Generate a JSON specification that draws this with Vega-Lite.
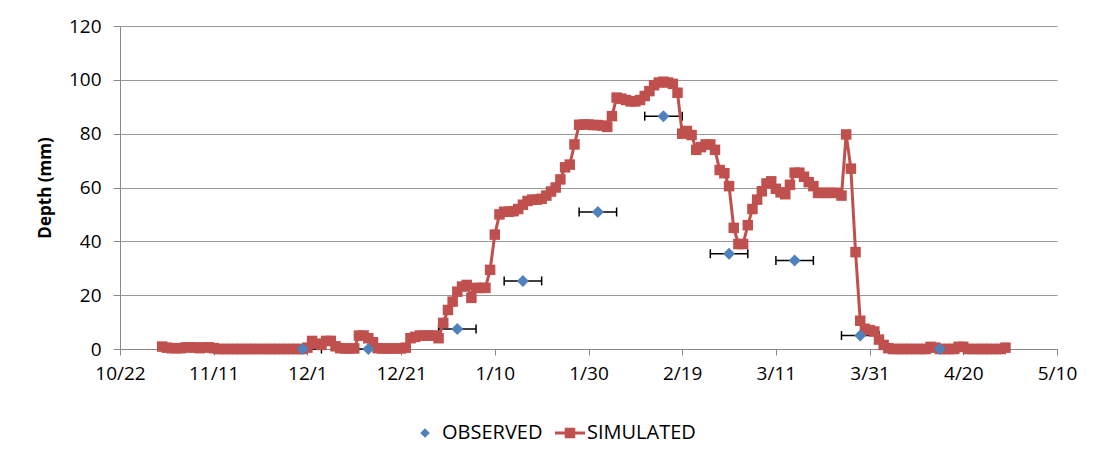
{
  "$schema": "https://vega.github.io/schema/vega-lite/v6.json",
  "autosize": {"type": "none"},
  "padding": {"left": 120, "top": 26, "right": 38, "bottom": 108},
  "width": 937,
  "height": 323,
  "background": "white",
  "config": {
    "view": {"stroke": null},
    "font": "Open Sans",
    "axis": {"labelFont": "Open Sans", "labelColor": "#000", "titleColor": "#000", "domainColor": "#888", "tickColor": "#888", "gridColor": "#999", "labelFontSize": 19, "titleFontSize": 17},
    "legend": {"orient": "none", "legendX": 290, "legendY": 392, "direction": "horizontal", "labelFont": "Open Sans", "labelFontSize": 20, "labelColor": "#000", "symbolSize": 900, "columnPadding": 12, "labelOffset": 2, "symbolStrokeWidth": 0, "title": null}
  },
  "datasets": {
    "sim": [
      {"date": "2010-10-31T00:00", "depth": 0.9},
      {"date": "2010-11-01T00:00", "depth": 0.5},
      {"date": "2010-11-02T00:00", "depth": 0.3},
      {"date": "2010-11-03T00:00", "depth": 0.3},
      {"date": "2010-11-04T00:00", "depth": 0.3},
      {"date": "2010-11-05T00:00", "depth": 0.6},
      {"date": "2010-11-06T00:00", "depth": 0.6},
      {"date": "2010-11-07T00:00", "depth": 0.6},
      {"date": "2010-11-08T00:00", "depth": 0.3},
      {"date": "2010-11-09T00:00", "depth": 0.6},
      {"date": "2010-11-10T00:00", "depth": 0.6},
      {"date": "2010-11-11T00:00", "depth": 0.3},
      {"date": "2010-11-12T00:00", "depth": 0},
      {"date": "2010-11-13T00:00", "depth": 0},
      {"date": "2010-11-14T00:00", "depth": 0},
      {"date": "2010-11-15T00:00", "depth": 0},
      {"date": "2010-11-16T00:00", "depth": 0},
      {"date": "2010-11-17T00:00", "depth": 0},
      {"date": "2010-11-18T00:00", "depth": 0},
      {"date": "2010-11-19T00:00", "depth": 0},
      {"date": "2010-11-20T00:00", "depth": 0},
      {"date": "2010-11-21T00:00", "depth": 0},
      {"date": "2010-11-22T00:00", "depth": 0},
      {"date": "2010-11-23T00:00", "depth": 0},
      {"date": "2010-11-24T00:00", "depth": 0},
      {"date": "2010-11-25T00:00", "depth": 0},
      {"date": "2010-11-26T00:00", "depth": 0},
      {"date": "2010-11-27T00:00", "depth": 0},
      {"date": "2010-11-28T00:00", "depth": 0},
      {"date": "2010-11-29T00:00", "depth": 0},
      {"date": "2010-11-30T00:00", "depth": 0},
      {"date": "2010-12-01T00:00", "depth": 0.5},
      {"date": "2010-12-02T00:00", "depth": 3},
      {"date": "2010-12-03T00:00", "depth": 2},
      {"date": "2010-12-04T00:00", "depth": 1.5},
      {"date": "2010-12-05T00:00", "depth": 3},
      {"date": "2010-12-06T00:00", "depth": 3},
      {"date": "2010-12-07T00:00", "depth": 1},
      {"date": "2010-12-08T00:00", "depth": 0.3},
      {"date": "2010-12-09T00:00", "depth": 0.2},
      {"date": "2010-12-10T00:00", "depth": 0.2},
      {"date": "2010-12-11T00:00", "depth": 0.2},
      {"date": "2010-12-12T00:00", "depth": 5},
      {"date": "2010-12-13T00:00", "depth": 5},
      {"date": "2010-12-14T00:00", "depth": 4},
      {"date": "2010-12-15T00:00", "depth": 2.5},
      {"date": "2010-12-16T00:00", "depth": 0.3},
      {"date": "2010-12-17T00:00", "depth": 0.2},
      {"date": "2010-12-18T00:00", "depth": 0.2},
      {"date": "2010-12-19T00:00", "depth": 0.2},
      {"date": "2010-12-20T00:00", "depth": 0.2},
      {"date": "2010-12-21T00:00", "depth": 0.2},
      {"date": "2010-12-22T00:00", "depth": 0.5},
      {"date": "2010-12-23T00:00", "depth": 4},
      {"date": "2010-12-24T00:00", "depth": 4.5},
      {"date": "2010-12-25T00:00", "depth": 5},
      {"date": "2010-12-26T00:00", "depth": 5},
      {"date": "2010-12-27T00:00", "depth": 5},
      {"date": "2010-12-28T00:00", "depth": 5},
      {"date": "2010-12-29T00:00", "depth": 4},
      {"date": "2010-12-30T00:00", "depth": 9.7},
      {"date": "2010-12-31T00:00", "depth": 14.5},
      {"date": "2011-01-01T00:00", "depth": 17.6},
      {"date": "2011-01-02T00:00", "depth": 21.3},
      {"date": "2011-01-03T00:00", "depth": 23.2},
      {"date": "2011-01-04T00:00", "depth": 23.8},
      {"date": "2011-01-05T00:00", "depth": 19},
      {"date": "2011-01-06T00:00", "depth": 22.7},
      {"date": "2011-01-07T00:00", "depth": 22.7},
      {"date": "2011-01-08T00:00", "depth": 22.7},
      {"date": "2011-01-09T00:00", "depth": 29.4},
      {"date": "2011-01-10T00:00", "depth": 42.5},
      {"date": "2011-01-11T00:00", "depth": 50},
      {"date": "2011-01-12T00:00", "depth": 51},
      {"date": "2011-01-13T00:00", "depth": 51},
      {"date": "2011-01-14T00:00", "depth": 51.2},
      {"date": "2011-01-15T00:00", "depth": 52},
      {"date": "2011-01-16T00:00", "depth": 53.6},
      {"date": "2011-01-17T00:00", "depth": 55},
      {"date": "2011-01-18T00:00", "depth": 55.5},
      {"date": "2011-01-19T00:00", "depth": 55.5},
      {"date": "2011-01-20T00:00", "depth": 55.8},
      {"date": "2011-01-21T00:00", "depth": 57},
      {"date": "2011-01-22T00:00", "depth": 58.5},
      {"date": "2011-01-23T00:00", "depth": 60},
      {"date": "2011-01-24T00:00", "depth": 63},
      {"date": "2011-01-25T00:00", "depth": 67.5},
      {"date": "2011-01-26T00:00", "depth": 68.5},
      {"date": "2011-01-27T00:00", "depth": 76},
      {"date": "2011-01-28T00:00", "depth": 83.3},
      {"date": "2011-01-29T00:00", "depth": 83.4},
      {"date": "2011-01-30T00:00", "depth": 83.4},
      {"date": "2011-01-31T00:00", "depth": 83.2},
      {"date": "2011-02-01T00:00", "depth": 83.2},
      {"date": "2011-02-02T00:00", "depth": 83},
      {"date": "2011-02-03T00:00", "depth": 82.5},
      {"date": "2011-02-04T00:00", "depth": 86.5},
      {"date": "2011-02-05T00:00", "depth": 93.4},
      {"date": "2011-02-06T00:00", "depth": 93},
      {"date": "2011-02-07T00:00", "depth": 92.5},
      {"date": "2011-02-08T00:00", "depth": 92},
      {"date": "2011-02-09T00:00", "depth": 92},
      {"date": "2011-02-10T00:00", "depth": 92.5},
      {"date": "2011-02-11T00:00", "depth": 94},
      {"date": "2011-02-12T00:00", "depth": 95.8},
      {"date": "2011-02-13T00:00", "depth": 98},
      {"date": "2011-02-14T00:00", "depth": 99},
      {"date": "2011-02-15T00:00", "depth": 99.3},
      {"date": "2011-02-16T00:00", "depth": 99},
      {"date": "2011-02-17T00:00", "depth": 98.5},
      {"date": "2011-02-18T00:00", "depth": 95.2},
      {"date": "2011-02-19T00:00", "depth": 80},
      {"date": "2011-02-20T00:00", "depth": 81},
      {"date": "2011-02-21T00:00", "depth": 79.5},
      {"date": "2011-02-22T00:00", "depth": 74},
      {"date": "2011-02-23T00:00", "depth": 75},
      {"date": "2011-02-24T00:00", "depth": 76},
      {"date": "2011-02-25T00:00", "depth": 76},
      {"date": "2011-02-26T00:00", "depth": 74},
      {"date": "2011-02-27T00:00", "depth": 66.5},
      {"date": "2011-02-28T00:00", "depth": 65.3},
      {"date": "2011-03-01T00:00", "depth": 60.5},
      {"date": "2011-03-02T00:00", "depth": 45},
      {"date": "2011-03-03T00:00", "depth": 39},
      {"date": "2011-03-04T00:00", "depth": 39},
      {"date": "2011-03-05T00:00", "depth": 46},
      {"date": "2011-03-06T00:00", "depth": 52},
      {"date": "2011-03-07T00:00", "depth": 55.5},
      {"date": "2011-03-08T00:00", "depth": 58.6},
      {"date": "2011-03-09T00:00", "depth": 61.5},
      {"date": "2011-03-10T00:00", "depth": 62.3},
      {"date": "2011-03-11T00:00", "depth": 59.5},
      {"date": "2011-03-12T00:00", "depth": 58.2},
      {"date": "2011-03-13T00:00", "depth": 57.5},
      {"date": "2011-03-14T00:00", "depth": 61},
      {"date": "2011-03-15T00:00", "depth": 65.5},
      {"date": "2011-03-16T00:00", "depth": 65.5},
      {"date": "2011-03-17T00:00", "depth": 64},
      {"date": "2011-03-18T00:00", "depth": 62},
      {"date": "2011-03-19T00:00", "depth": 60.5},
      {"date": "2011-03-20T00:00", "depth": 58},
      {"date": "2011-03-21T00:00", "depth": 58},
      {"date": "2011-03-22T00:00", "depth": 58},
      {"date": "2011-03-23T00:00", "depth": 58},
      {"date": "2011-03-24T00:00", "depth": 58},
      {"date": "2011-03-25T00:00", "depth": 57},
      {"date": "2011-03-26T00:00", "depth": 79.7},
      {"date": "2011-03-27T00:00", "depth": 67},
      {"date": "2011-03-28T00:00", "depth": 36},
      {"date": "2011-03-29T00:00", "depth": 10.5},
      {"date": "2011-03-30T00:00", "depth": 7.5},
      {"date": "2011-03-31T00:00", "depth": 7},
      {"date": "2011-04-01T00:00", "depth": 6.5},
      {"date": "2011-04-02T00:00", "depth": 3.5},
      {"date": "2011-04-03T00:00", "depth": 1.5},
      {"date": "2011-04-04T00:00", "depth": 0.3},
      {"date": "2011-04-05T00:00", "depth": 0},
      {"date": "2011-04-06T00:00", "depth": 0},
      {"date": "2011-04-07T00:00", "depth": 0},
      {"date": "2011-04-08T00:00", "depth": 0},
      {"date": "2011-04-09T00:00", "depth": 0},
      {"date": "2011-04-10T00:00", "depth": 0},
      {"date": "2011-04-11T00:00", "depth": 0},
      {"date": "2011-04-12T00:00", "depth": 0},
      {"date": "2011-04-13T00:00", "depth": 0.8},
      {"date": "2011-04-14T00:00", "depth": 0.5},
      {"date": "2011-04-15T00:00", "depth": 0},
      {"date": "2011-04-16T00:00", "depth": 0},
      {"date": "2011-04-17T00:00", "depth": 0},
      {"date": "2011-04-18T00:00", "depth": 0},
      {"date": "2011-04-19T00:00", "depth": 0.8},
      {"date": "2011-04-20T00:00", "depth": 0.8},
      {"date": "2011-04-21T00:00", "depth": 0},
      {"date": "2011-04-22T00:00", "depth": 0},
      {"date": "2011-04-23T00:00", "depth": 0},
      {"date": "2011-04-24T00:00", "depth": 0},
      {"date": "2011-04-25T00:00", "depth": 0},
      {"date": "2011-04-26T00:00", "depth": 0},
      {"date": "2011-04-27T00:00", "depth": 0},
      {"date": "2011-04-28T00:00", "depth": 0},
      {"date": "2011-04-29T00:00", "depth": 0.5}
    ],
    "obs": [
      {"date": "2010-11-30T00:00", "lo": "2010-11-26T00:00", "hi": "2010-12-04T00:00", "depth": 0},
      {"date": "2010-12-14T00:00", "lo": "2010-12-10T00:00", "hi": "2010-12-18T00:00", "depth": 0},
      {"date": "2011-01-02T00:00", "lo": "2010-12-29T00:00", "hi": "2011-01-06T00:00", "depth": 7.4},
      {"date": "2011-01-16T00:00", "lo": "2011-01-12T00:00", "hi": "2011-01-20T00:00", "depth": 25.3},
      {"date": "2011-02-01T00:00", "lo": "2011-01-28T00:00", "hi": "2011-02-05T00:00", "depth": 50.9},
      {"date": "2011-02-15T00:00", "lo": "2011-02-11T00:00", "hi": "2011-02-19T00:00", "depth": 86.5},
      {"date": "2011-03-01T00:00", "lo": "2011-02-25T00:00", "hi": "2011-03-05T00:00", "depth": 35.4},
      {"date": "2011-03-15T00:00", "lo": "2011-03-11T00:00", "hi": "2011-03-19T00:00", "depth": 32.9},
      {"date": "2011-03-29T00:00", "lo": "2011-03-25T00:00", "hi": "2011-04-02T00:00", "depth": 5},
      {"date": "2011-04-15T00:00", "lo": "2011-04-11T00:00", "hi": "2011-04-19T00:00", "depth": 0}
    ]
  },
  "encoding": {
    "x": {
      "field": "date", "type": "temporal", "title": null,
      "scale": {"domain": [{"year": 2010, "month": 10, "date": 22}, {"year": 2011, "month": 5, "date": 10}]},
      "axis": {
        "format": "%-m/%-d", "grid": false, "tickSize": 6, "labelPadding": 9, "labelFlush": false, "labelOverlap": false,
        "values": [
          {"year": 2010, "month": 10, "date": 22}, {"year": 2010, "month": 11, "date": 11}, {"year": 2010, "month": 12, "date": 1},
          {"year": 2010, "month": 12, "date": 21}, {"year": 2011, "month": 1, "date": 10}, {"year": 2011, "month": 1, "date": 30},
          {"year": 2011, "month": 2, "date": 19}, {"year": 2011, "month": 3, "date": 11}, {"year": 2011, "month": 3, "date": 31},
          {"year": 2011, "month": 4, "date": 20}, {"year": 2011, "month": 5, "date": 10}
        ]
      }
    },
    "y": {
      "field": "depth", "type": "quantitative", "title": "Depth (mm)",
      "scale": {"domain": [0, 120], "nice": false},
      "axis": {"values": [0, 20, 40, 60, 80, 100, 120], "tickSize": 7, "labelPadding": 12, "titleFontWeight": "bold", "titlePadding": 14}
    }
  },
  "layer": [
    {
      "data": {"name": "obs"},
      "mark": {"type": "rule", "color": "#000", "strokeWidth": 1.5},
      "encoding": {
        "x": {"field": "lo", "type": "temporal"},
        "x2": {"field": "hi"},
        "y": {"field": "depth", "type": "quantitative"}
      }
    },
    {
      "data": {"name": "obs"},
      "mark": {"type": "rule", "color": "#000", "strokeWidth": 1.5, "yOffset": -4.5, "y2Offset": 4.5},
      "encoding": {
        "x": {"field": "lo", "type": "temporal"},
        "y": {"field": "depth", "type": "quantitative"},
        "y2": {"field": "depth"}
      }
    },
    {
      "data": {"name": "obs"},
      "mark": {"type": "rule", "color": "#000", "strokeWidth": 1.5, "yOffset": -4.5, "y2Offset": 4.5},
      "encoding": {
        "x": {"field": "hi", "type": "temporal"},
        "y": {"field": "depth", "type": "quantitative"},
        "y2": {"field": "depth"}
      }
    },
    {
      "data": {"name": "sim"},
      "mark": {"type": "line", "color": "#C0504D", "strokeWidth": 3},
      "encoding": {}
    },
    {
      "data": {"name": "sim"},
      "mark": {"type": "point", "shape": "square", "filled": true, "size": 110, "opacity": 1},
      "encoding": {
        "color": {"datum": "SIMULATED", "type": "nominal", "scale": {"domain": ["OBSERVED", "SIMULATED"], "range": ["#4F81BD", "#C0504D"]}}
      }
    },
    {
      "data": {"name": "obs"},
      "mark": {"type": "point", "filled": true, "size": 1406, "opacity": 1},
      "encoding": {
        "color": {"datum": "OBSERVED", "type": "nominal"},
        "shape": {"datum": "OBSERVED", "type": "nominal", "scale": {"domain": ["OBSERVED", "SIMULATED"], "range": ["M0,-0.32L0.32,0L0,0.32L-0.32,0Z", "M-1,-0.1H1V0.1H-1Z M-0.35,-0.35H0.35V0.35H-0.35Z"]}}
      }
    }
  ]
}
